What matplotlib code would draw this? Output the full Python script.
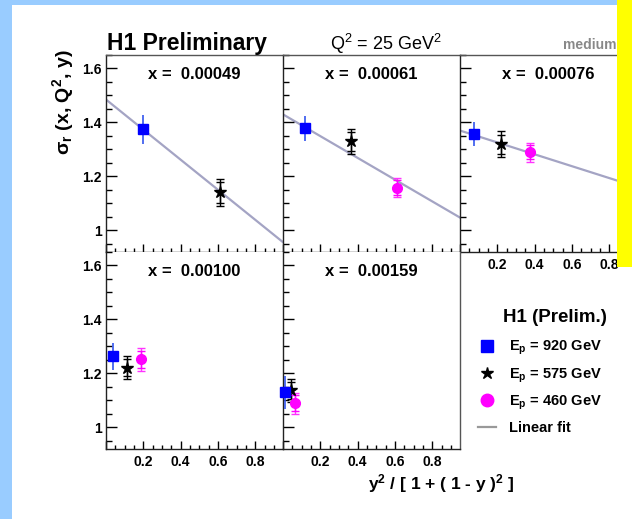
import matplotlib
matplotlib.use("Agg")
import matplotlib.pyplot as plt
import numpy as np
from matplotlib.lines import Line2D
from matplotlib.patches import Rectangle
from matplotlib.ticker import FormatStrFormatter, FuncFormatter, MultipleLocator

# one entry per x bin (panel); NaN = no measurement
X_BINS = ["0.00049", "0.00061", "0.00076", "0.00100", "0.00159"]

# Ep = 920 GeV
Y920 = [0.198, 0.118, 0.075, 0.038, 0.010]
SIG920 = [1.374, 1.378, 1.356, 1.263, 1.130]
ERR920 = [0.052, 0.047, 0.045, 0.050, 0.060]

# Ep = 575 GeV
Y575 = [0.610, 0.363, 0.218, 0.113, 0.043]
SIG575 = [1.141, 1.330, 1.319, 1.222, 1.137]
TOT575 = [0.050, 0.047, 0.048, 0.042, 0.042]
STAT575 = [0.040, 0.035, 0.036, 0.030, 0.030]

# Ep = 460 GeV
Y460 = [np.nan, 0.611, 0.375, 0.190, 0.064]
SIG460 = [np.nan, 1.159, 1.289, 1.252, 1.089]
TOT460 = [np.nan, 0.037, 0.036, 0.043, 0.040]
STAT460 = [np.nan, 0.028, 0.026, 0.030, 0.030]

# linear fit per panel
FIT_A = [1.485, 1.430, 1.370, np.nan, np.nan]
FIT_B = [-0.557, -0.403, -0.220, np.nan, np.nan]

W, H = 632, 519
XMAX = 0.949
YLIM = (0.92, 1.65)

plt.rcParams["font.family"] = ["Liberation Sans", "DejaVu Sans"]
plt.rcParams["mathtext.default"] = "regular"
plt.rcParams["mathtext.fontset"] = "custom"
plt.rcParams["mathtext.rm"] = "Liberation Sans"
plt.rcParams["mathtext.bf"] = "Liberation Sans:bold"


def fx(px):
    return px / W


def fy(py):
    return 1 - py / H


fig = plt.figure(figsize=(W / 100, H / 100), dpi=100, facecolor="#99ccff")
fig.add_artist(Rectangle((fx(12), 0), 1, fy(5), transform=fig.transFigure,
                         facecolor="white", edgecolor="none", zorder=-5))

cols = [106, 283, 460]
rows = [55, 252]
pw, ph = 177, 197
slots = [(0, 0), (0, 1), (0, 2), (1, 0), (1, 1)]

for i, (r, c) in enumerate(slots):
    ax = fig.add_axes([fx(cols[c]), fy(rows[r] + ph), pw / W, ph / H])
    ax.set_xlim(0, XMAX)
    ax.set_ylim(*YLIM)
    for side in ["left", "bottom", "top", "right"]:
        ax.spines[side].set_linewidth(1.0)
        ax.spines[side].set_color("#222222")
    ax.spines["top"].set_visible(r == 0)
    ax.spines["top"].set_color("#555555")
    ax.spines["right"].set_visible(r == 1 and c == 1)
    ax.spines["right"].set_color("#555555")

    ax.xaxis.set_major_locator(MultipleLocator(0.2))
    ax.xaxis.set_minor_locator(MultipleLocator(0.05))
    ax.yaxis.set_major_locator(MultipleLocator(0.2))
    ax.yaxis.set_minor_locator(MultipleLocator(0.05))
    ax.yaxis.set_major_formatter(FormatStrFormatter("%g"))
    ax.xaxis.set_major_formatter(
        FuncFormatter(lambda v, p: "" if abs(v) < 1e-6 else f"{v:.1f}"))
    ax.tick_params(axis="y", which="major", direction="in", length=8, width=1,
                   labelsize=10, pad=3)
    ax.tick_params(axis="y", which="minor", direction="in", length=4, width=1)
    ax.tick_params(axis="x", which="major", direction="in", length=6, width=1,
                   labelsize=10, pad=4)
    ax.tick_params(axis="x", which="minor", direction="in", length=3, width=1)
    for lab in ax.get_xticklabels() + ax.get_yticklabels():
        lab.set_fontweight("bold")
    if c != 0:
        ax.tick_params(axis="y", labelleft=False)
    if r == 0 and c != 2:
        ax.tick_params(axis="x", labelbottom=False)

    if not np.isnan(FIT_A[i]):
        xs = np.array([0, XMAX])
        ax.plot(xs, FIT_A[i] + FIT_B[i] * xs, color="#a4a4c4", lw=1.6, zorder=1)

    ax.errorbar(Y575[i], SIG575[i], yerr=TOT575[i], fmt="none", ecolor="black",
                elinewidth=1, capsize=3, capthick=1, clip_on=False, zorder=3)
    ax.errorbar(Y575[i], SIG575[i], yerr=STAT575[i], fmt="*", color="black",
                ms=9, elinewidth=1, capsize=3, capthick=1, clip_on=False, zorder=3)
    if not np.isnan(Y460[i]):
        ax.errorbar(Y460[i], SIG460[i], yerr=TOT460[i], fmt="none", ecolor="#ff33ff",
                    elinewidth=1, capsize=3, capthick=1, clip_on=False, zorder=3)
        ax.errorbar(Y460[i], SIG460[i], yerr=STAT460[i], fmt="o", color="#ff00ff",
                    ms=7, elinewidth=1, capsize=3, capthick=1, clip_on=False, zorder=3)
    ax.errorbar(Y920[i], SIG920[i], yerr=ERR920[i], fmt="s", color="#0000ff",
                ecolor="#3355ee", ms=7, elinewidth=1.2, capsize=0, clip_on=False, zorder=4)

    ax.text(0.5, 0.9, f"x =  {X_BINS[i]}", transform=ax.transAxes, ha="center",
            va="center", fontsize=12, fontweight="bold")

fig.text(fx(107), fy(50), "H1 Preliminary", fontsize=16.5, fontweight="bold",
         ha="left", va="baseline")
fig.text(fx(330), fy(50), "Q$^{2}$ = 25 GeV$^{2}$", fontsize=13, ha="left", va="baseline")
fig.text(fx(563), fy(49), "medium", fontsize=10, fontweight="bold", color="#888888",
         ha="left", va="baseline")
fig.text(fx(63), fy(102), r"$\sigma_{r}$ (x, Q$^{2}$, y)", rotation=90, fontsize=14,
         fontweight="bold", ha="center", va="center")
fig.text(fx(441), fy(489), "y$^{2}$ / [ 1 + ( 1 - y )$^{2}$ ]", fontsize=12.5,
         fontweight="bold", ha="center", va="baseline")

fig.text(fx(555), fy(317), "H1 (Prelim.)", fontsize=13.5, fontweight="bold",
         ha="center", va="center")
handles = [
    Line2D([], [], ls="none", marker="s", color="#0000ff", ms=9),
    Line2D([], [], ls="none", marker="*", color="black", ms=9),
    Line2D([], [], ls="none", marker="o", color="#ff00ff", ms=9),
    Line2D([], [], color="#999999", lw=1.6),
]
labels = ["E$_{p}$ = 920 GeV", "E$_{p}$ = 575 GeV", "E$_{p}$ = 460 GeV", "Linear fit"]
fig.legend(handles, labels, loc="upper left", bbox_to_anchor=(fx(478), fy(339)),
           frameon=False, borderpad=0, borderaxespad=0, handlelength=1.25,
           handletextpad=0.9, labelspacing=0.62,
           prop={"size": 10.5, "weight": "bold"})

fig.add_artist(Rectangle((fx(617), fy(267)), 1, 1, transform=fig.transFigure,
                         facecolor="#ffff00", edgecolor="none", zorder=10))

fig.savefig("out.png", dpi=100, facecolor=fig.get_facecolor())
